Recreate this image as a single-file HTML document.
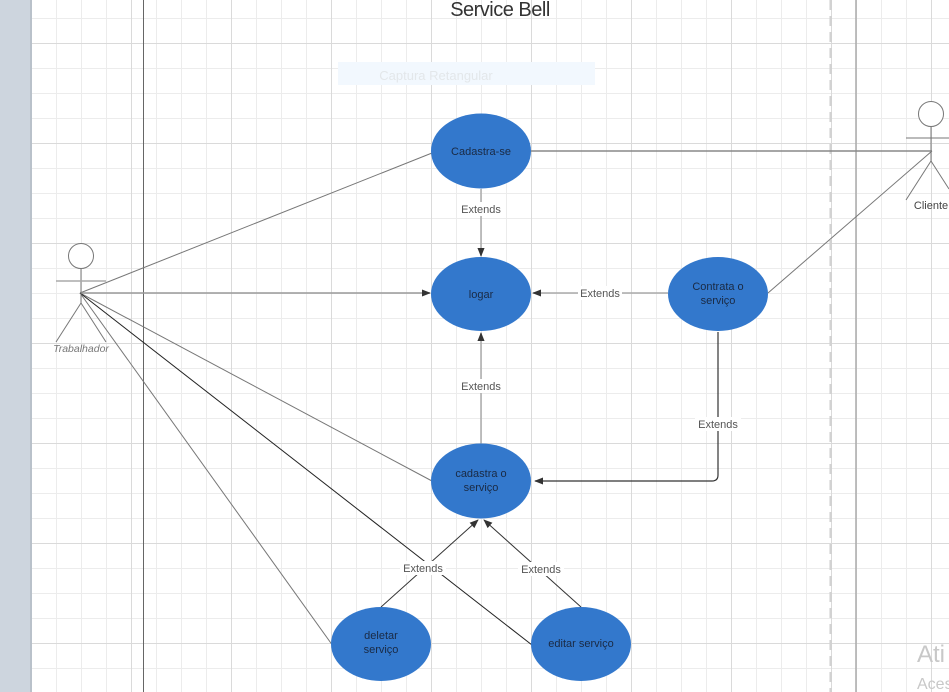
<!DOCTYPE html>
<html><head><meta charset="utf-8"><style>
html,body{margin:0;padding:0;width:949px;height:692px;overflow:hidden;background:#fff}
#grid{position:absolute;left:31px;top:0;width:918px;height:692px;
background:
linear-gradient(90deg,#dadada 1px,transparent 1px) 100px 43px/100px 100px,
linear-gradient(#dadada 1px,transparent 1px) 100px 43px/100px 100px,
linear-gradient(90deg,#ececec 1px,transparent 1px) 0px 18px/25px 25px,
linear-gradient(#ececec 1px,transparent 1px) 0px 18px/25px 25px,#fff;}
svg{position:absolute;left:0;top:0;display:block}
text{font-family:"Liberation Sans",Arial,sans-serif}
</style></head><body>
<div id="grid"></div>
<svg width="949" height="692" viewBox="0 0 949 692" xmlns="http://www.w3.org/2000/svg">
<defs>
<marker id="ar" viewBox="0 0 10 10" refX="9" refY="5" markerWidth="9" markerHeight="9" orient="auto" markerUnits="userSpaceOnUse">
<path d="M0 1L10 5L0 9Z" fill="#333"/>
</marker>
</defs>
<rect x="0" y="0" width="31" height="692" fill="#cdd5de"/>
<rect x="30" y="0" width="2" height="692" fill="#b9c1ca"/>
<line x1="143.5" y1="0" x2="143.5" y2="692" stroke="#666" stroke-width="1"/>
<line x1="830.7" y1="0" x2="830.7" y2="692" stroke="#d2d2d2" stroke-width="2.5" stroke-dasharray="10,6"/>
<line x1="856" y1="0" x2="856" y2="692" stroke="#aaa" stroke-width="1.5"/>

<text x="500" y="16" font-size="20" text-anchor="middle" fill="#333" letter-spacing="-0.5">Service Bell</text>
<rect x="338" y="62" width="257" height="23" fill="#f2f8fe"/>
<text x="436" y="80" font-size="13" text-anchor="middle" fill="#e3e7ea">Captura Retangular</text>

<g stroke="#777" stroke-width="1" fill="none">
<line x1="80" y1="293" x2="432" y2="153"/>
<line x1="80" y1="293" x2="432" y2="481"/>
<line x1="80" y1="293" x2="333" y2="646"/>
<line x1="531" y1="151" x2="932" y2="151" stroke="#888" stroke-width="1.5"/>
<line x1="768" y1="293" x2="932" y2="151"/>
</g>
<line x1="80" y1="293" x2="430" y2="293" stroke="#999" stroke-width="1.5" marker-end="url(#ar)"/>
<line x1="80" y1="293" x2="532" y2="645" stroke="#222" stroke-width="1"/>

<g stroke="#aaa" stroke-width="1.5" fill="none">
<line x1="481" y1="189" x2="481" y2="256" marker-end="url(#ar)"/>
<line x1="668" y1="293" x2="533" y2="293" marker-end="url(#ar)"/>
<line x1="481" y1="444" x2="481" y2="333" marker-end="url(#ar)"/>
</g>
<path d="M718 332V475Q718 481 712 481H535" stroke="#333" stroke-width="1.2" fill="none" marker-end="url(#ar)"/>
<line x1="381" y1="607" x2="478" y2="520" stroke="#333" stroke-width="1" marker-end="url(#ar)"/>
<line x1="581" y1="607" x2="484" y2="520" stroke="#333" stroke-width="1" marker-end="url(#ar)"/>

<g font-size="11" fill="#555" text-anchor="middle">
<rect x="458" y="202" width="46" height="14" fill="#fff"/><text x="481" y="213">Extends</text>
<rect x="578" y="286" width="44" height="14" fill="#fff"/><text x="600" y="297">Extends</text>
<rect x="458" y="379" width="46" height="14" fill="#fff"/><text x="481" y="390">Extends</text>
<rect x="695" y="417" width="46" height="14" fill="#fff"/><text x="718" y="428">Extends</text>
<rect x="400" y="561" width="46" height="14" fill="#fff"/><text x="423" y="572">Extends</text>
<rect x="518" y="562" width="46" height="14" fill="#fff"/><text x="541" y="573">Extends</text>
</g>

<g fill="#3378cc">
<ellipse cx="481" cy="151" rx="50" ry="37.5"/>
<ellipse cx="481" cy="294" rx="50" ry="37"/>
<ellipse cx="718" cy="294" rx="50" ry="37"/>
<ellipse cx="481" cy="481" rx="50" ry="37.5"/>
<ellipse cx="381" cy="644" rx="50" ry="37"/>
<ellipse cx="581" cy="644" rx="50" ry="37"/>
</g>
<g font-size="11" fill="#1a2a44" text-anchor="middle">
<text x="481" y="155">Cadastra-se</text>
<text x="481" y="298">logar</text>
<text x="718" y="290">Contrata o</text><text x="718" y="304">serviço</text>
<text x="481" y="477">cadastra o</text><text x="481" y="491">serviço</text>
<text x="381" y="639">deletar</text><text x="381" y="653">serviço</text>
<text x="581" y="647">editar serviço</text>
</g>

<g stroke="#777" stroke-width="1" fill="none">
<circle cx="81" cy="256" r="12.5" fill="#fff"/>
<line x1="81" y1="268.5" x2="81" y2="303"/>
<line x1="56" y1="281" x2="106" y2="281" stroke="#aaa" stroke-width="1.5"/>
<line x1="81" y1="303" x2="56" y2="342"/>
<line x1="81" y1="303" x2="106" y2="342"/>
<circle cx="931" cy="114" r="12.5" fill="#fff"/>
<line x1="931" y1="126.5" x2="931" y2="161"/>
<line x1="906" y1="138" x2="949" y2="138"/>
<line x1="931" y1="161" x2="906" y2="200"/>
<line x1="931" y1="161" x2="949" y2="189"/>
</g>
<text x="81" y="352" font-size="10.5" font-style="italic" fill="#777" text-anchor="middle">Trabalhador</text>
<text x="931" y="209" font-size="11" fill="#444" text-anchor="middle">Cliente</text>

<text x="917" y="662" font-size="24" fill="#c8c8c8">Ati</text>
<text x="917" y="689" font-size="16" fill="#c8c8c8">Aces</text>
</svg>
</body></html>
